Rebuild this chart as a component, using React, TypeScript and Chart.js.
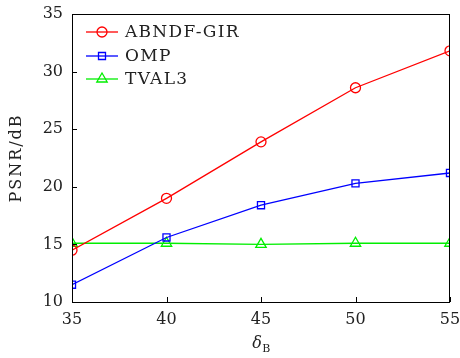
import React, { useEffect, useRef } from "react";
import { Chart, registerables } from "chart.js";
Chart.register(...registerables);

const xValues = [35, 40, 45, 50, 55];
const abndf = [14.5, 19.0, 23.9, 28.6, 31.8];
const omp = [11.5, 15.6, 18.4, 20.3, 21.2];
const tval3 = [15.1, 15.1, 15.0, 15.1, 15.1];
const seriesNames = ["ABNDF-GIR", "OMP", "TVAL3"];
const colors = ["#ff0000", "#0000ff", "#00ee00"];
const styles = ["circle", "rect", "triangle"];
const yTicks = [10, 15, 20, 25, 30, 35];

const FONT = "'DejaVu Serif', 'Liberation Serif', serif";

const decorPlugin = {
  id: "decor",
  afterDraw(chart: any) {
    const { ctx, chartArea: a, scales } = chart;
    ctx.save();
    ctx.strokeStyle = "#000";
    ctx.lineWidth = 1;
    ctx.strokeRect(a.left + 0.5, a.top + 0.5, a.right - a.left - 1, a.bottom - a.top);
    ctx.beginPath();
    for (const v of xValues) {
      const x = Math.round(scales.x.getPixelForValue(v)) + 0.5;
      ctx.moveTo(x, a.bottom);
      ctx.lineTo(x, a.bottom - 5);
    }
    for (const v of yTicks) {
      const y = Math.round(scales.y.getPixelForValue(v)) + 0.5;
      ctx.moveTo(a.left, y);
      ctx.lineTo(a.left + 5, y);
    }
    ctx.stroke();
    // legend
    const rows = [32, 56, 79];
    for (let i = 0; i < 3; i++) {
      const y = rows[i];
      ctx.strokeStyle = colors[i];
      ctx.lineWidth = 1.3;
      ctx.beginPath();
      ctx.moveTo(a.left + 14, y);
      ctx.lineTo(a.left + 46, y);
      ctx.stroke();
      const cx = a.left + 30;
      ctx.beginPath();
      if (styles[i] === "circle") {
        ctx.arc(cx, y, 5, 0, Math.PI * 2);
      } else if (styles[i] === "rect") {
        ctx.rect(cx - 3.5, y - 3.5, 7, 7);
      } else {
        ctx.moveTo(cx - 5.2, y + 3);
        ctx.lineTo(cx + 5.2, y + 3);
        ctx.lineTo(cx, y - 6);
        ctx.closePath();
      }
      ctx.stroke();
      ctx.fillStyle = "#222";
      ctx.font = `17px ${FONT}`;
      (ctx as any).letterSpacing = "1.3px";
      ctx.textAlign = "left";
      ctx.textBaseline = "middle";
      ctx.fillText(seriesNames[i], a.left + 53, y + 1);
      (ctx as any).letterSpacing = "0px";
    }
    // axis titles
    ctx.fillStyle = "#222";
    ctx.save();
    ctx.translate(17, (a.top + a.bottom) / 2);
    ctx.rotate(-Math.PI / 2);
    ctx.textAlign = "center";
    ctx.textBaseline = "middle";
    ctx.font = `16px ${FONT}`;
    (ctx as any).letterSpacing = "2px";
    ctx.fillText("PSNR/dB", 0, 0);
    (ctx as any).letterSpacing = "0px";
    ctx.restore();
    const cxT = (a.left + a.right) / 2;
    ctx.textBaseline = "alphabetic";
    ctx.textAlign = "left";
    ctx.font = `italic 16px ${FONT}`;
    const dw = ctx.measureText("δ").width;
    ctx.font = `11px ${FONT}`;
    const bw = ctx.measureText("B").width;
    const startX = cxT - (dw + bw) / 2;
    ctx.font = `italic 16px ${FONT}`;
    ctx.fillText("δ", startX, 348);
    ctx.font = `11px ${FONT}`;
    ctx.fillText("B", startX + dw + 0.5, 352);
    ctx.restore();
  },
};

export default function App() {
  const ref = useRef<HTMLCanvasElement>(null);
  useEffect(() => {
    const mk = (data: number[], i: number) => ({
      label: seriesNames[i],
      data: xValues.map((x, k) => ({ x, y: data[k] })),
      borderColor: colors[i],
      backgroundColor: "rgba(0,0,0,0)",
      borderWidth: 1.3,
      pointStyle: styles[i],
      pointRadius: i === 2 ? 6 : 5,
      pointBorderWidth: 1.3,
      pointBackgroundColor: "rgba(0,0,0,0)",
      pointBorderColor: colors[i],
      tension: 0,
    });
    const chart = new Chart(ref.current!, {
      type: "line",
      data: { datasets: [mk(abndf, 0), mk(omp, 1), mk(tval3, 2)] },
      options: {
        animation: false,
        responsive: false,
        layout: { padding: { left: 0, right: 10, top: 14, bottom: 0 } },
        plugins: { legend: { display: false }, tooltip: { enabled: false } },
        scales: {
          x: {
            type: "linear",
            min: 35,
            max: 55,
            afterFit: (s: any) => { s.height = 56; s.paddingRight = 0; s.paddingLeft = 0; },
            afterBuildTicks: (s: any) => { s.ticks = xValues.map((v) => ({ value: v })); },
            grid: { display: false, drawTicks: false },
            border: { display: false },
            ticks: { color: "#222", padding: 8, font: { family: FONT, size: 16 } },
          },
          y: {
            type: "linear",
            min: 10,
            max: 35,
            afterFit: (s: any) => { s.width = 72; s.paddingTop = 0; s.paddingBottom = 0; },
            afterBuildTicks: (s: any) => { s.ticks = yTicks.map((v) => ({ value: v })); },
            grid: { display: false, drawTicks: false },
            border: { display: false },
            ticks: { color: "#222", padding: 9, font: { family: FONT, size: 16 } },
          },
        },
      },
      plugins: [decorPlugin],
    } as any);
    return () => chart.destroy();
  }, []);
  return (
    <div style={{ position: "fixed", left: 0, top: 0, width: 460, height: 358, background: "#fff" }}>
      <canvas ref={ref} width={460} height={358} style={{ width: 460, height: 358 }} />
    </div>
  );
}
